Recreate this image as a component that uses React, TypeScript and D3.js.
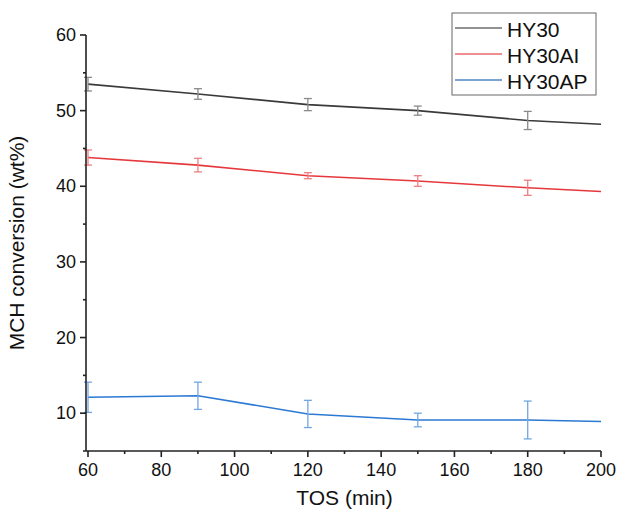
import { scaleLinear, line, range } from "d3";

const width = 617;
const height = 514;
const MARGIN = { top: 35, right: 16, bottom: 63, left: 88 };
const boundsWidth = width - MARGIN.left - MARGIN.right;
const boundsHeight = height - MARGIN.top - MARGIN.bottom;

const tos = [60, 90, 120, 150, 180, 200];
const hy30 = [53.5, 52.2, 50.8, 50.0, 48.7, 48.2];
const hy30Err = [0.9, 0.7, 0.8, 0.6, 1.2, 0];
const hy30ai = [43.8, 42.8, 41.4, 40.7, 39.8, 39.3];
const hy30aiErr = [1.0, 0.9, 0.4, 0.7, 1.0, 0];
const hy30ap = [12.1, 12.3, 9.9, 9.1, 9.1, 8.9];
const hy30apErr = [2.0, 1.8, 1.8, 0.9, 2.5, 0];

const xTicks = [60, 80, 100, 120, 140, 160, 180, 200];
const yTicks = [10, 20, 30, 40, 50, 60];

const seriesList = [
  { name: "HY30", values: hy30, errs: hy30Err, color: "#3a3a3a", errColor: "#8a8a8a", legendColor: "#6e6e6e" },
  { name: "HY30AI", values: hy30ai, errs: hy30aiErr, color: "#e5383d", errColor: "#ee7f82", legendColor: "#e86a6e" },
  { name: "HY30AP", values: hy30ap, errs: hy30apErr, color: "#2b79d3", errColor: "#73a6e3", legendColor: "#4f84c4" },
];

const FONT = "Arial, 'Liberation Sans', sans-serif";

export default function App() {
  const xScale = scaleLinear().domain([60, 200]).range([0, boundsWidth]);
  const yScale = scaleLinear().domain([5, 60]).range([boundsHeight, 0]);

  const makeLine = (vals: number[]) =>
    line<number>()
      .x((_, i) => xScale(tos[i]))
      .y((d) => yScale(d))(vals) || "";

  const axisX0 = -2;

  return (
    <div style={{ position: "absolute", left: 0, top: 0 }}>
      <svg width={width} height={height} viewBox={`0 0 ${width} ${height}`} style={{ display: "block" }}>
        <rect width={width} height={height} fill="#fff" />
        <g transform={`translate(${MARGIN.left},${MARGIN.top})`} fontFamily={FONT}>
          {/* series */}
          {seriesList.map((s) => (
            <g key={s.name}>
              <path d={makeLine(s.values)} fill="none" stroke={s.color} strokeWidth={1.6} />
              {s.values.map((v, i) => {
                const e = s.errs[i];
                if (!e) return null;
                const x = xScale(tos[i]);
                const y1 = yScale(v + e);
                const y2 = yScale(v - e);
                return (
                  <g key={i} stroke={s.errColor} strokeWidth={1.3}>
                    <line x1={x} x2={x} y1={y1} y2={y2} />
                    <line x1={x - 4} x2={x + 4} y1={y1} y2={y1} />
                    <line x1={x - 4} x2={x + 4} y1={y2} y2={y2} />
                  </g>
                );
              })}
            </g>
          ))}

          {/* y axis */}
          <line x1={axisX0} x2={axisX0} y1={0} y2={boundsHeight} stroke="#222" strokeWidth={1.6} />
          {range(10, 61, 5).map((v) => (
            <line key={v} x1={axisX0} x2={axisX0 - (v % 10 === 0 ? 6 : 3)} y1={yScale(v)} y2={yScale(v)} stroke="#222" strokeWidth={1.6} />
          ))}
          {yTicks.map((v) => (
            <text key={v} x={-12} y={yScale(v)} textAnchor="end" dominantBaseline="central" fontSize={18} fill="#111">
              {v}
            </text>
          ))}

          {/* x axis */}
          <line x1={axisX0 - 3} x2={boundsWidth} y1={boundsHeight} y2={boundsHeight} stroke="#222" strokeWidth={1.6} />
          {range(60, 201, 10).map((v) => (
            <line key={v} x1={xScale(v)} x2={xScale(v)} y1={boundsHeight} y2={boundsHeight + (v % 20 === 0 ? 6 : 3)} stroke="#222" strokeWidth={1.6} />
          ))}
          {xTicks.map((v) => (
            <text key={v} x={xScale(v)} y={boundsHeight + 25} textAnchor="middle" fontSize={18} fill="#111">
              {v}
            </text>
          ))}

          <text x={boundsWidth / 2} y={boundsHeight + 54} textAnchor="middle" fontSize={21} fill="#111">
            TOS (min)
          </text>
          <text transform={`translate(${-64},${boundsHeight / 2}) rotate(-90)`} textAnchor="middle" fontSize={21} fill="#111">
            MCH conversion (wt%)
          </text>

          {/* legend */}
          <g transform={`translate(${452 - MARGIN.left},${13 - MARGIN.top})`}>
            <rect x={0} y={0} width={144} height={82} fill="#fff" stroke="#666" strokeWidth={1} />
            {seriesList.map((s, i) => (
              <g key={s.name} transform={`translate(0,${15 + i * 26})`}>
                <line x1={3} x2={50} y1={0} y2={0} stroke={s.legendColor} strokeWidth={1.6} />
                <text x={55} y={1} dominantBaseline="central" fontSize={21} fill="#111">
                  {s.name}
                </text>
              </g>
            ))}
          </g>
        </g>
      </svg>
    </div>
  );
}
